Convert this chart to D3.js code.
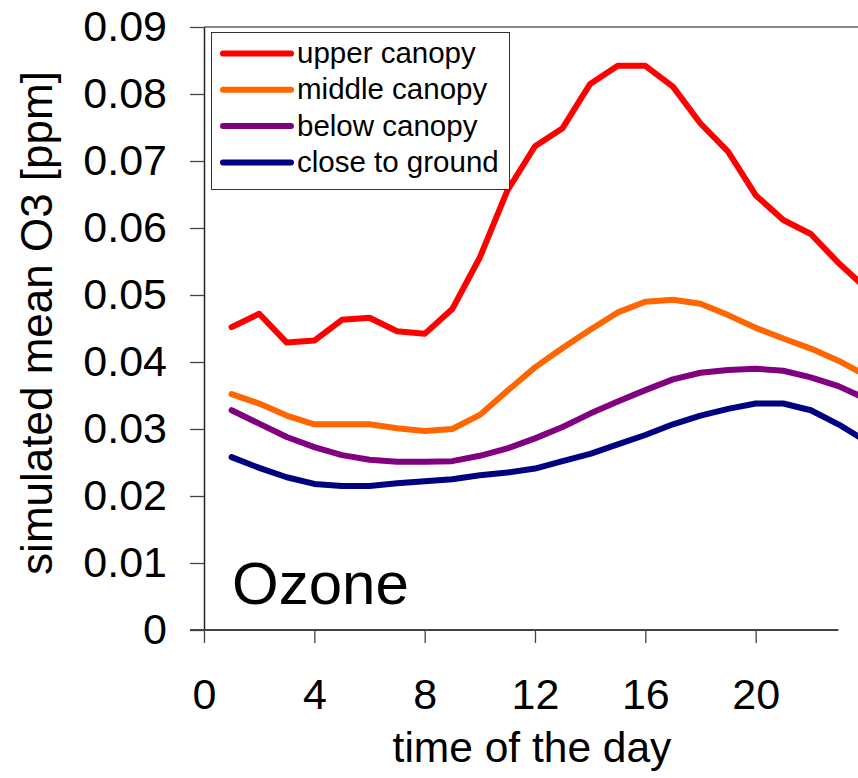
<!DOCTYPE html>
<html>
  <head>
    <meta charset="utf-8">
    <title>Simulated mean O3</title>
    <script type="text/javascript" src="https://cdn.jsdelivr.net/npm/d3@7"></script>
    <style>
      body { margin: 0; background: #fff; }
      text { font-family: "Liberation Sans", Arial, sans-serif; fill: #000; }
    </style>
  </head>
  <body>
    <script type="text/javascript">
     // data (hour 1..24)
     let hours = d3.range(1, 25);
     let upperCanopy = [0.0452, 0.0472, 0.0429, 0.0432, 0.0463, 0.0466, 0.0446, 0.0442,
                        0.0479, 0.0556, 0.0656, 0.0722, 0.0749, 0.0815, 0.0842, 0.0842,
                        0.0811, 0.0756, 0.0714, 0.0649, 0.0612, 0.0591, 0.0548, 0.0510];
     let middleCanopy = [0.0352, 0.0338, 0.0320, 0.0307, 0.0307, 0.0307, 0.0301, 0.0297,
                         0.0300, 0.0321, 0.0357, 0.0392, 0.0421, 0.0448, 0.0474, 0.0490,
                         0.0493, 0.0487, 0.0470, 0.0451, 0.0435, 0.0420, 0.0402, 0.0380];
     let belowCanopy = [0.0328, 0.0308, 0.0288, 0.0273, 0.0261, 0.0254, 0.0251, 0.0251,
                        0.0252, 0.0260, 0.0271, 0.0286, 0.0303, 0.0323, 0.0341, 0.0358,
                        0.0374, 0.0384, 0.0388, 0.0390, 0.0387, 0.0377, 0.0364, 0.0345];
     let closeToGround = [0.0258, 0.0242, 0.0228, 0.0218, 0.0215, 0.0215, 0.0219, 0.0222,
                          0.0225, 0.0231, 0.0235, 0.0241, 0.0252, 0.0263, 0.0277, 0.0291,
                          0.0307, 0.0320, 0.0330, 0.0338, 0.0338, 0.0328, 0.0307, 0.0282];
     let seriesNames = ["upper canopy", "middle canopy", "below canopy", "close to ground"];
     let seriesColors = ["#ff0000", "#ff6600", "#800080", "#000080"];
     let xTicks = [0, 4, 8, 12, 16, 20];
     let yTicks = [0, 0.01, 0.02, 0.03, 0.04, 0.05, 0.06, 0.07, 0.08, 0.09];

     let series = [upperCanopy, middleCanopy, belowCanopy, closeToGround];

     // set the canvas
     let w = 858;
     let h = 778;
     let svg = d3.select("body").append("svg")
                 .attr("width", w)
                 .attr("height", h)
                 .style("display", "block");

     let xScale = d3.scaleLinear()
                    .domain([0, 24])
                    .range([204, 866]);
     let yScale = d3.scaleLinear()
                    .domain([0, 0.09])
                    .range([630, 27]);

     // top frame line
     svg.append("line")
        .attr("x1", xScale(0))
        .attr("x2", w)
        .attr("y1", yScale(0.09))
        .attr("y2", yScale(0.09))
        .attr("stroke", "#888")
        .attr("stroke-width", 2);

     // y axis
     let yAxis = d3.axisLeft(yScale)
                   .tickValues(yTicks)
                   .tickSize(14)
                   .tickSizeOuter(0)
                   .tickPadding(23)
                   .tickFormat((d) => {return d === 0 ? "0" : d3.format(".2f")(d);});
     let gy = svg.append("g")
                 .attr("transform", "translate(" + xScale(0) + ", 0)")
                 .call(yAxis);
     gy.select(".domain").attr("stroke", "#222").attr("stroke-width", 1.5);
     gy.selectAll(".tick line").attr("stroke", "#444").attr("stroke-width", 1.3);
     gy.selectAll(".tick text")
       .attr("font-size", 43)
       .attr("font-family", "Liberation Sans, Arial, sans-serif")
       .attr("fill", "#000");

     // x axis (line stops at hour 23 like the original)
     let xAxis = d3.axisBottom(xScale)
                   .tickValues(xTicks)
                   .tickSize(13)
                   .tickSizeOuter(0)
                   .tickPadding(35);
     let gx = svg.append("g")
                 .attr("transform", "translate(0, " + yScale(0) + ")")
                 .call(xAxis);
     gx.select(".domain").remove();
     gx.append("line")
       .attr("x1", xScale(0) - 14)
       .attr("x2", xScale(23))
       .attr("stroke", "#444")
       .attr("stroke-width", 2);
     gx.selectAll(".tick line").attr("stroke", "#444").attr("stroke-width", 1.3);
     gx.selectAll(".tick text")
       .attr("font-size", 43)
       .attr("font-family", "Liberation Sans, Arial, sans-serif")
       .attr("fill", "#000");

     // the lines
     let line = d3.line()
                  .x((d, i) => {return xScale(hours[i]);})
                  .y((d) => {return yScale(d);});
     svg.selectAll(".series")
        .data(series)
        .enter()
        .append("path")
        .attr("class", "series")
        .attr("d", line)
        .attr("fill", "none")
        .attr("stroke", (d, i) => {return seriesColors[i];})
        .attr("stroke-width", 6)
        .attr("stroke-linecap", "round")
        .attr("stroke-linejoin", "round");

     // legend
     let legend = svg.append("g");
     legend.append("rect")
           .attr("x", 211.5)
           .attr("y", 32.5)
           .attr("width", 298)
           .attr("height", 157)
           .attr("fill", "#fff")
           .attr("stroke", "#333")
           .attr("stroke-width", 1);
     let items = legend.selectAll(".item")
                       .data(seriesNames)
                       .enter()
                       .append("g")
                       .attr("class", "item")
                       .attr("transform", (d, i) => {return "translate(0, " + (53.5 + i * 36.3) + ")";});
     items.append("line")
          .attr("x1", 223)
          .attr("x2", 291)
          .attr("stroke", (d, i) => {return seriesColors[i];})
          .attr("stroke-width", 6)
          .attr("stroke-linecap", "round");
     items.append("text")
          .attr("x", 297)
          .attr("y", 9.5)
          .attr("font-size", 29.5)
          .text((d) => {return d;});

     // labels
     svg.append("text")
        .attr("x", 232)
        .attr("y", 604)
        .attr("font-size", 60)
        .text("Ozone");

     svg.append("text")
        .attr("x", 532)
        .attr("y", 762)
        .attr("text-anchor", "middle")
        .attr("font-size", 42.5)
        .text("time of the day");

     svg.append("text")
        .attr("transform", "translate(52, 323) rotate(-90)")
        .attr("text-anchor", "middle")
        .attr("font-size", 44)
        .text("simulated mean O3 [ppm]");
    </script>
  </body>
</html>
